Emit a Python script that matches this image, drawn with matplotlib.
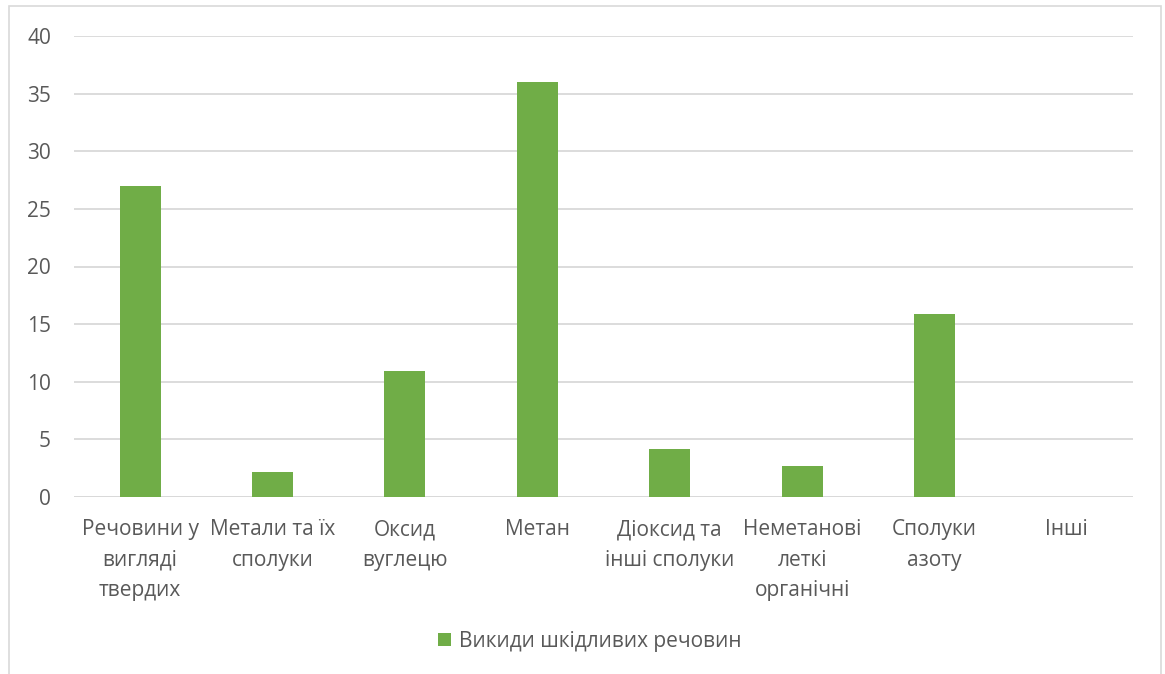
import matplotlib.pyplot as plt
import numpy as np
from matplotlib.patches import Rectangle

plt.rcParams['font.family'] = ['Open Sans', 'DejaVu Sans']

categories = ['Речовини у\nвигляді\nтвердих', 'Метали та їх\nсполуки', 'Оксид\nвуглецю', 'Метан',
              'Діоксид та\nінші сполуки', 'Неметанові\nлеткі\nорганічні', 'Сполуки\nазоту', 'Інші']
values = [27, 2.2, 10.95, 36, 4.2, 2.7, 15.9, 0]
series_name = 'Викиди шкідливих речовин'
yticks = [0, 5, 10, 15, 20, 25, 30, 35, 40]

green = '#70ad47'
grey_text = '#595959'
grid = '#d9d9d9'

fig = plt.figure(figsize=(11.65, 6.74), dpi=100)
fig.patches.append(Rectangle((9 / 1165, -0.05), (1161 - 9) / 1165, 1.05 - 6 / 674,
                             transform=fig.transFigure, fill=False, edgecolor='#d9d9d9', lw=1.2))

ax = fig.add_axes([74 / 1165, 177 / 674, (1133 - 74) / 1165, 461 / 674])
x = np.arange(len(categories))
ax.bar(x, values, width=0.31, color=green, label=series_name, zorder=3)

ax.set_xlim(-0.5, len(categories) - 0.5)
ax.set_ylim(0, 40)
ax.set_yticks(yticks)
ax.set_yticklabels([str(t) for t in yticks])
ax.yaxis.grid(True, color=grid, lw=1.3, zorder=0)
ax.set_xticks(x)
ax.set_xticklabels(categories, linespacing=1.6, va='top')
for s in ax.spines.values():
    s.set_visible(False)
ax.axhline(0, color=grid, lw=1.3, zorder=2)
ax.tick_params(axis='both', length=0, labelsize=15, colors=grey_text)
ax.tick_params(axis='y', pad=16.5)
ax.tick_params(axis='x', pad=16)

leg = fig.legend(loc='center', bbox_to_anchor=(590 / 1165, 1 - 641 / 674), frameon=False,
                 fontsize=15, handlelength=0.6, handleheight=0.6, handletextpad=0.4)
for t in leg.get_texts():
    t.set_color(grey_text)

fig.savefig('out.png', dpi=100, facecolor='white')
